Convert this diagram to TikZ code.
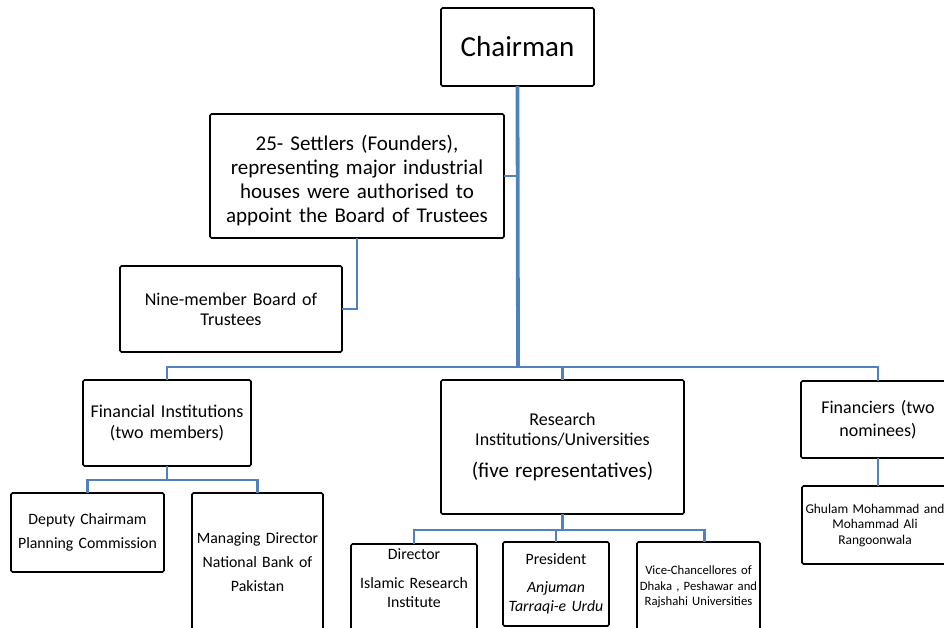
\documentclass[tikz,border=0pt]{standalone}
\usepackage{fontspec}
\setmainfont{Carlito}
\definecolor{linkblue}{RGB}{79,129,189}

\begin{document}
\begin{tikzpicture}[x=1pt, y=-1pt,
  box/.style={draw, line width=1.6pt, rounded corners=1.5pt, align=center, inner xsep=2pt, inner ysep=0pt, outer sep=0pt},
  link/.style={draw=linkblue, line width=2.6pt},
  trunk/.style={draw=linkblue, line width=3.8pt}]
\useasboundingbox (0,0) rectangle (944,628);

\node (chair)[box, text width=149pt, minimum height=78pt, font=\fontsize{29}{34}\selectfont] at (517.5,47) {Chairman};
\node (settlers)[box, text width=290pt, minimum height=124pt, font=\fontsize{21}{24}\selectfont] at (357,176) {\rule{0pt}{24pt}25- Settlers (Founders),\\representing major industrial\\houses were authorised to\\appoint the Board of Trustees};
\node (board)[box, text width=218pt, minimum height=86pt, font=\fontsize{18}{20}\selectfont] at (231,309) {Nine-member Board of\\Trustees};
\node (fininst)[box, text width=164pt, minimum height=86pt, font=\fontsize{18}{21}\selectfont] at (167,423) {Financial Institutions\\(two members)};
\node (research)[box, text width=239pt, minimum height=134pt, font=\fontsize{18}{20}\selectfont] at (562.5,447) {Research\\Institutions/Universities\\[12pt]{\fontsize{21}{20}\selectfont (five representatives)}};
\node (financiers)[box, text width=150pt, minimum height=77pt, font=\fontsize{18}{23}\selectfont] at (878,419.5) {Financiers (two\\nominees)};
\node (ghulam)[box, text width=142pt, minimum height=78pt, font=\fontsize{13.4}{15.5}\selectfont] at (875,525) {\mbox{Ghulam Mohammad and}\\Mohammad Ali\\Rangoonwala};
\node (deputy)[box, text width=149pt, minimum height=79pt, font=\fontsize{15.8}{24}\selectfont] at (87.5,532.5) {Deputy Chairmam\\Planning Commission};
\node (nbp)[box, text width=127pt, minimum height=138pt, font=\fontsize{15.8}{24}\selectfont] at (257.5,562) {Managing Director\\National Bank of\\Pakistan};
\node (director)[box, text width=122pt, minimum height=100pt, font=\fontsize{15.8}{19}\selectfont] at (414,594) {Director\\[10pt]Islamic Research\\Institute\\[8pt]\strut};
\node (president)[box, text width=102pt, minimum height=84pt, font=\fontsize{15.8}{19}\selectfont] at (556,584) {President\\[9pt]\textit{Anjuman}\\\textit{Tarraqi-e Urdu}};
\node (vc)[box, inner xsep=0pt, text width=123pt, minimum height=90pt, font=\fontsize{12.7}{15.5}\selectfont] at (698.5,587) {\mbox{Vice-Chancellores of}\\\mbox{Dhaka , Peshawar and}\\\mbox{Rajshahi Universities}};

\coordinate (bus) at (518,367);

\draw[trunk] (chair.south) -- (bus);
\draw[link] (settlers.east) -- (settlers.east -| chair.south);
\draw[link] (settlers.south) |- (board.east);
\draw[link] (fininst.north) |- (bus) -| (financiers.north);
\draw[link] (bus) -| (research.north);
\draw[link] (fininst.south) -- ++(0,14) -| (deputy.north);
\draw[link] (fininst.south) ++(0,14) -| (nbp.north);
\draw[trunk] (research.south) -- ++(0,16);
\draw[link] (research.south) ++(0,16) -| (director.north);
\draw[link] (research.south) ++(0,16) -| (president.north);
\draw[link] (research.south) ++(0,16) -| ([xshift=6pt]vc.north);
\draw[link] (financiers.south) -- (financiers.south |- ghulam.north);

\end{tikzpicture}
\end{document}
